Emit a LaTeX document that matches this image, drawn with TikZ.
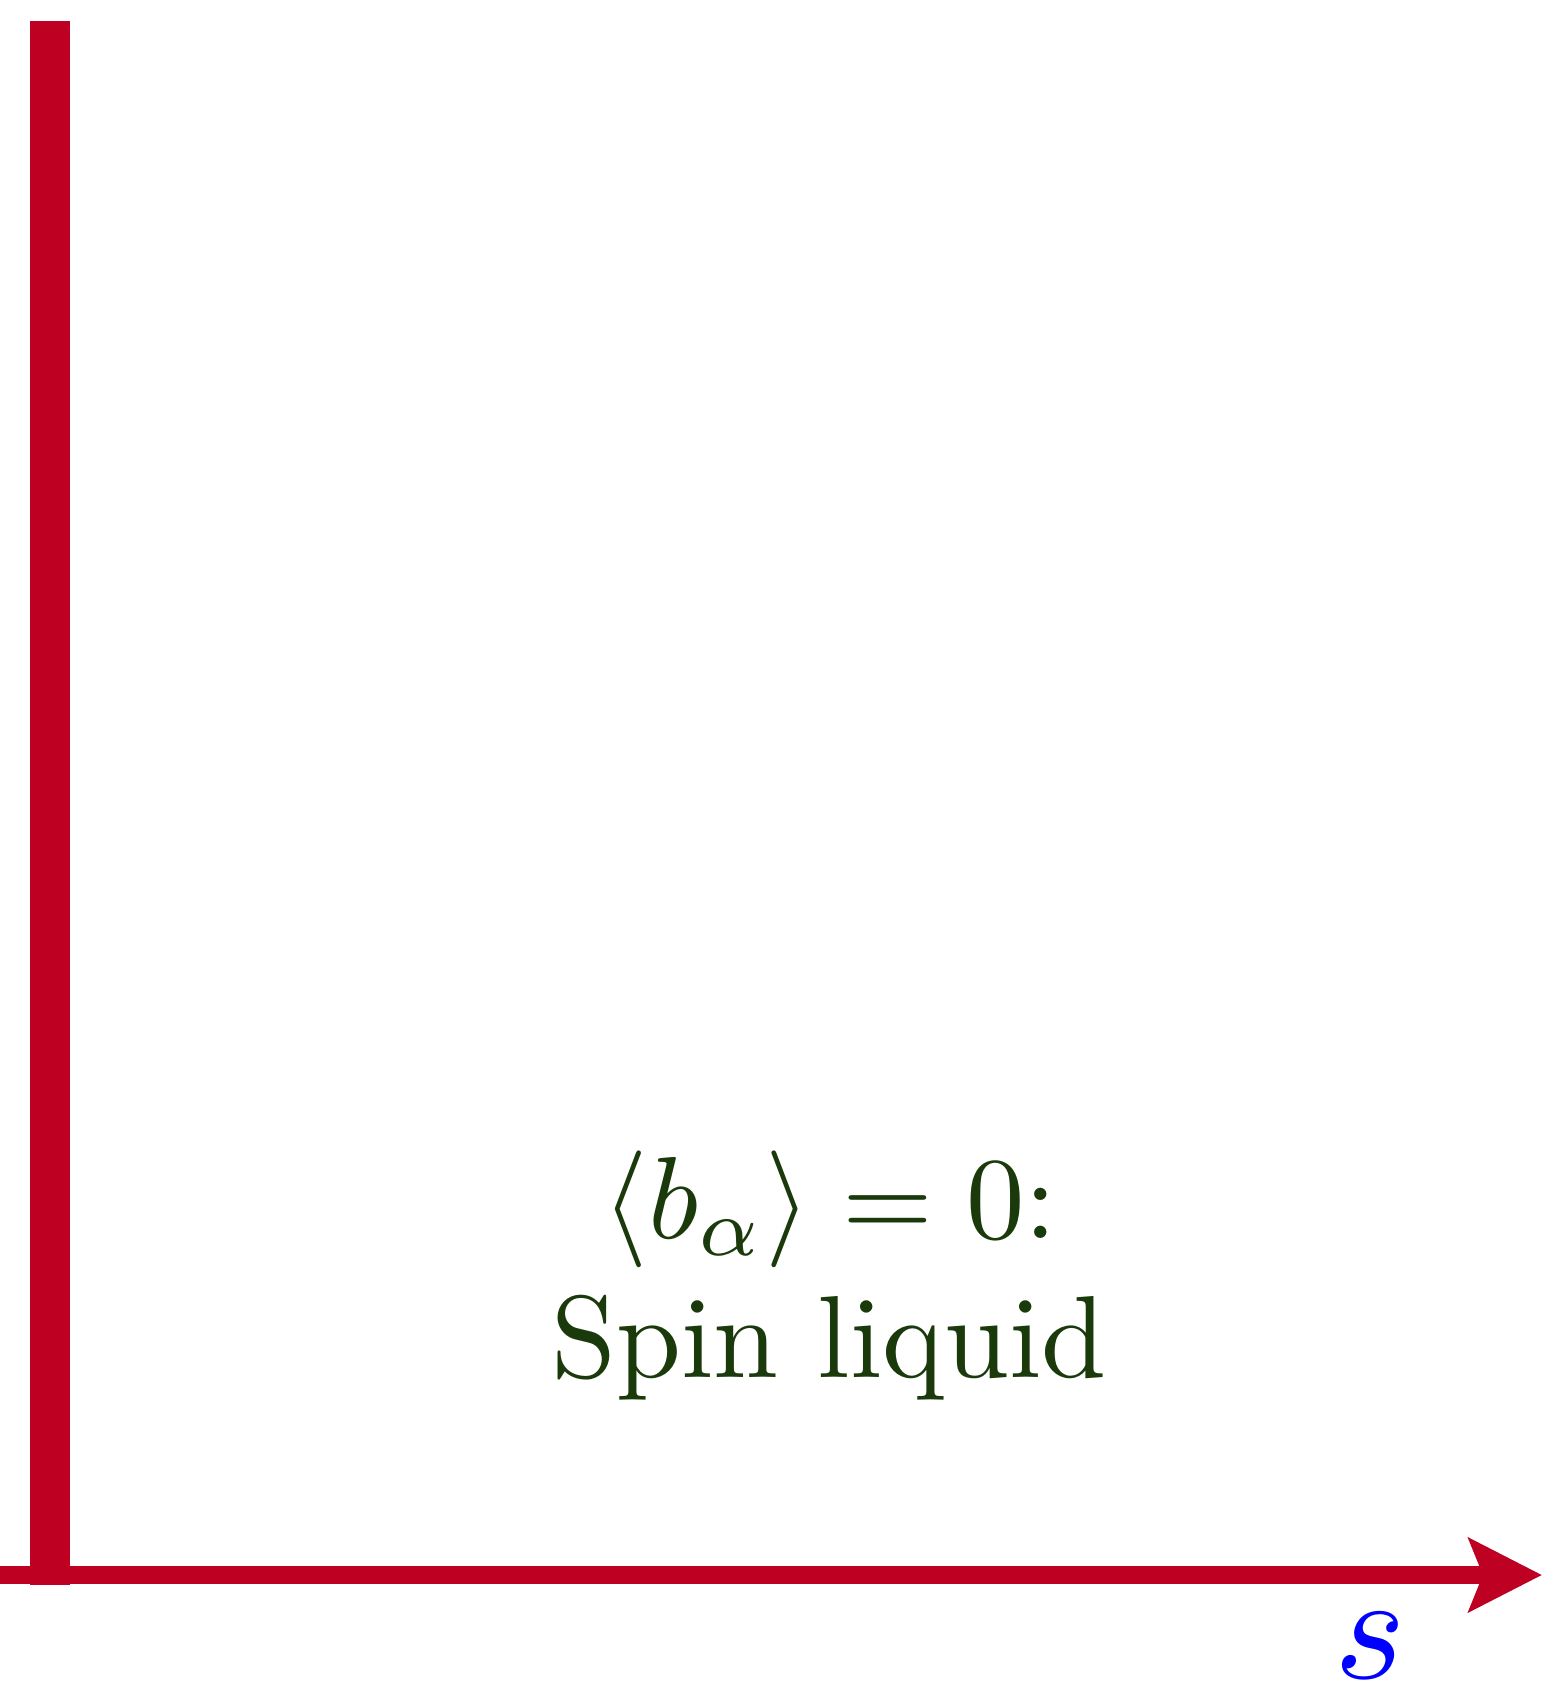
\documentclass[tikz,border=0pt]{standalone}
\usepackage{graphicx}
\usetikzlibrary{arrows.meta}
\definecolor{axisred}{RGB}{190,0,34}
\definecolor{txtgreen}{RGB}{27,58,12}
\begin{document}
\begin{tikzpicture}[x=0.25pt,y=-0.25pt,
  axisline/.style={draw=axisred,line cap=butt},
  phase/.style={text=txtgreen,inner sep=0pt,font=\normalsize},
  axislabel/.style={text=blue,inner sep=0pt,font=\normalsize}]
\useasboundingbox (0,0) rectangle (1562,1700);
\coordinate (xstart) at (0,1575);
\coordinate (xend) at (1542,1575);
\coordinate (ytop) at (50,21);
\coordinate (ybot) at (50,1585);
\draw[axisline,line width=4.5pt,-{Stealth[length=18.25pt,width=18.25pt,inset=3.5pt]}] (xstart) -- (xend);
\draw[axisline,line width=10pt] (ybot) -- (ytop);
\node[phase,anchor=base] (l1) at (830,1238) {\scalebox{2.92}{$\langle b_\alpha\rangle = 0$:}};
\node[phase,anchor=base] (l2) at (829,1377) {\scalebox{2.92}{Spin liquid}};
\node[axislabel] (s) at (1370,1646) {\scalebox{3.8}{$s$}};
\end{tikzpicture}
\end{document}
